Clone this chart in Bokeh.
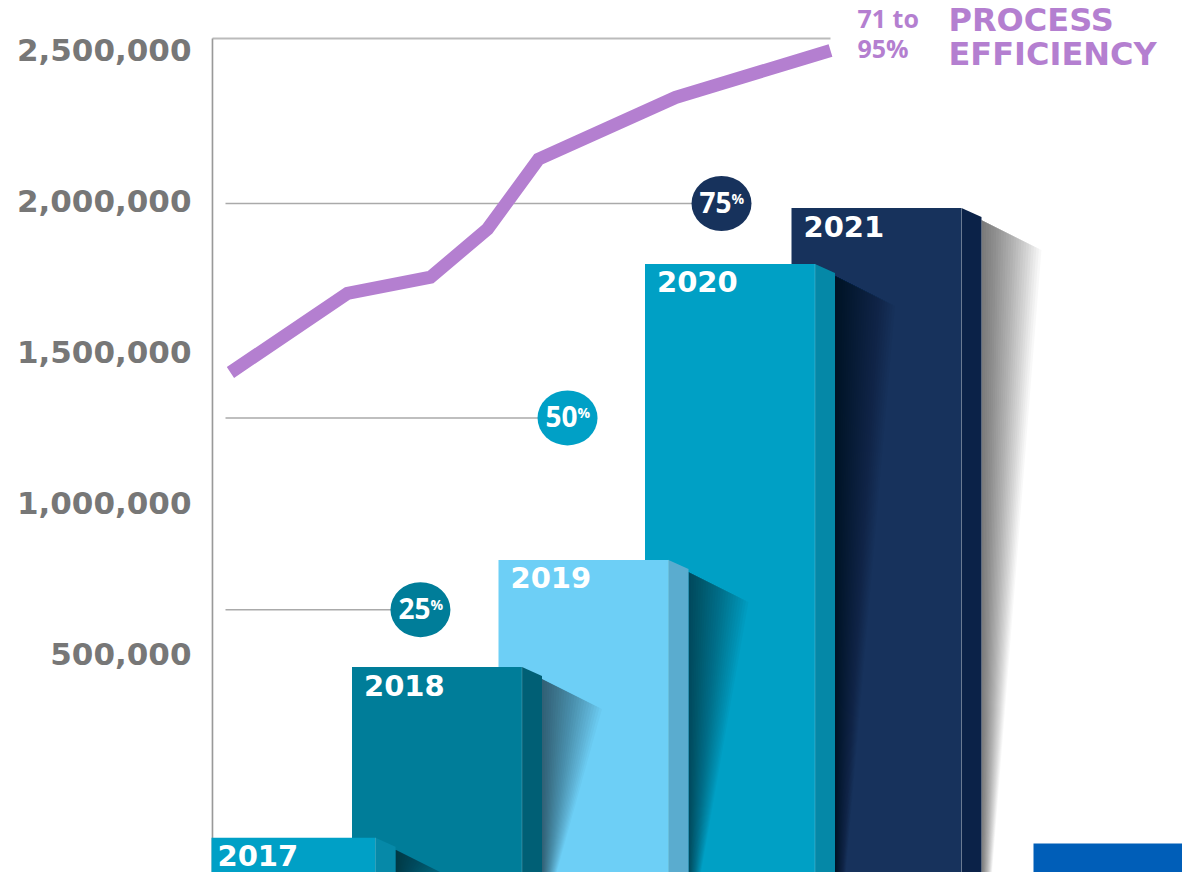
from bokeh.plotting import figure
from bokeh.models import Range1d, FixedTicker, NumeralTickFormatter
from bokeh.embed import file_html
from bokeh.resources import INLINE
from bokeh.core.properties import value

# ---------------- data ----------------
years = ["2017", "2018", "2019", "2020", "2021"]
year_pos = [2017, 2018, 2019, 2020, 2021]
bar_values = [-110000, 455000, 810000, 1790000, 1975000]
front_colors = ["#00A0C6", "#007D99", "#6DCFF6", "#00A0C5", "#17325C"]
side_colors = ["#0689A8", "#005F75", "#5AACCF", "#0588A7", "#0B2248"]

tick_values = [500000, 1000000, 1500000, 2000000, 2500000]

eff_x = [2016.590, 2017.389, 2017.956, 2018.345, 2018.693, 2019.628, 2020.686]
eff_values = [71.0, 76.9, 78.1, 81.7, 86.9, 91.5, 95.0]

milestone_labels = ["25", "50", "75"]
milestone_x = [2017.887, 2018.891, 2019.942]
milestone_y = [645000, 1280000, 1990000]
milestone_colors = ["#007D99", "#00A0C6", "#17325C"]

eff_range_text = ["71 to", "95%"]
title_text = ["PROCESS", "EFFICIENCY"]

# ---------------- geometry (px -> data) ----------------
W, H = 1182, 872
FRAME_LEFT = 211
PX_PER_YEAR = 146.5
X_ORIGIN_PX = 290.0          # px of 2017 bar centre
U = 500000.0 / 151.0         # value units per px
Y_ZERO_PX = 804.0            # px of value 0
E_PER_PX = 24.0 / 322.0
E_REF_PX = 372.0             # px of 71 %


def px2x(px):
    return 2017 + (px - X_ORIGIN_PX) / PX_PER_YEAR


def px2y(py):
    return (Y_ZERO_PX - py) * U


def px2e(py):
    return 71.0 + (E_REF_PX - py) * E_PER_PX


x_start, x_end = px2x(FRAME_LEFT), px2x(W)
y_start, y_end = px2y(H), px2y(0)
e_start, e_end = px2e(H), px2e(0)

p = figure(width=W, height=H, output_backend="svg", toolbar_location=None,
           x_range=Range1d(x_start, x_end), y_range=Range1d(y_start, y_end),
           x_axis_location=None, y_axis_location="left",
           min_border_left=FRAME_LEFT, min_border_right=0, min_border_top=0, min_border_bottom=0)
p.extra_y_ranges = {"eff": Range1d(e_start, e_end)}
p.outline_line_color = None
p.background_fill_color = "white"
p.border_fill_color = "white"
p.xgrid.visible = False
p.ygrid.visible = False

ax = p.yaxis[0]
ax.ticker = FixedTicker(ticks=tick_values)
ax.formatter = NumeralTickFormatter(format="0,0")
ax.axis_line_color = None
ax.major_tick_line_color = None
ax.minor_tick_line_color = None
ax.major_label_standoff = 14
ax.major_label_text_font = "DejaVu Sans"
ax.major_label_text_font_style = "bold"
ax.major_label_text_font_size = "31px"
ax.major_label_text_color = "#777777"

# decorative rules
line_end_x = eff_x[-1]
p.segment(x0=[px2x(212)], y0=[px2y(38)], x1=[line_end_x], y1=[px2y(38)],
          line_color="#BBBBBB", line_width=2)
p.segment(x0=[px2x(225)] * len(milestone_x), y0=milestone_y, x1=milestone_x, y1=milestone_y,
          line_color="#AAAAAA", line_width=1.5)
p.segment(x0=[px2x(211.8)], y0=[px2y(38)], x1=[px2x(211.8)], y1=[y_start],
          line_color="#999999", line_width=2)

# bars (back to front)
depth = 20.0 / PX_PER_YEAR
half = 85.0 / PX_PER_YEAR
bottom = y_start - 20 * U
N_SHADOW = 24
for i in reversed(range(len(years))):
    top = bar_values[i]
    xl = year_pos[i] - half
    xr = year_pos[i] + half
    sr = xr + depth
    # soft shadow to the right
    xs, ys = [], []
    for k in range(1, N_SHADOW + 1):
        f = k / N_SHADOW
        w = 60 * f / PX_PER_YEAR
        xs.append([sr, sr + w, sr + 0.15 * w, sr])
        ys.append([top - 12 * U, top - (12 + 30 * f) * U, bottom, bottom])
    p.patches(xs=xs, ys=ys, fill_color="black", fill_alpha=0.027, line_color=None)
    p.quad(left=[xl], right=[xr], bottom=[bottom], top=[top],
           fill_color=front_colors[i], line_color=None)
    p.patch(x=[xr, sr, sr, xr], y=[top, top - 9 * U, bottom, bottom],
            fill_color=side_colors[i], line_color=None)
    p.segment(x0=[xr], y0=[top], x1=[xr], y1=[bottom], line_color="white",
              line_alpha=0.18, line_width=1)

# bar labels
p.text(x=[v - half for v in year_pos], y=bar_values, text=years,
       x_offset=12, y_offset=18, text_align="left", text_baseline="middle",
       text_font=value("DejaVu Sans"), text_font_style="bold",
       text_font_size="29px", text_color="white")

# milestone circles
p.ellipse(x=milestone_x, y=milestone_y, width=60, height=55,
          width_units="screen", height_units="screen",
          fill_color=milestone_colors, line_color=None)
p.text(x=milestone_x, y=milestone_y, text=milestone_labels,
       x_offset=10, y_offset=-1, text_align="right", text_baseline="middle",
       text_font=value("Open Sans"), text_font_style="bold",
       text_font_size="28px", text_color="white")
p.text(x=milestone_x, y=milestone_y, text=["%"] * len(milestone_x),
       x_offset=10, y_offset=-5, text_align="left", text_baseline="middle",
       text_font=value("Open Sans"), text_font_style="bold",
       text_font_size="14px", text_color="white")

# efficiency line
p.line(x=eff_x, y=eff_values, y_range_name="eff", line_color="#B47FD0",
       line_width=13, line_cap="butt", line_join="miter")

# efficiency texts
p.text(x=[px2x(857)] * 2, y=[px2e(17), px2e(47)], y_range_name="eff",
       text=eff_range_text, text_align="left", text_baseline="middle",
       text_font=value("Open Sans"), text_font_style="bold",
       text_font_size="25px", text_color="#B47FD0")
p.text(x=[px2x(948)] * 2, y=[px2e(19), px2e(53)], y_range_name="eff",
       text=title_text, text_align="left", text_baseline="middle",
       text_font=value("DejaVu Sans"), text_font_style="bold",
       text_font_size="32px", text_color="#B47FD0")

# corner block
p.quad(left=[px2x(1033)], right=[x_end + 1], bottom=[y_start - 1e5], top=[px2y(843)],
       fill_color="#005EB8", line_color=None)

open("out.html", "w").write(file_html(p, INLINE))
